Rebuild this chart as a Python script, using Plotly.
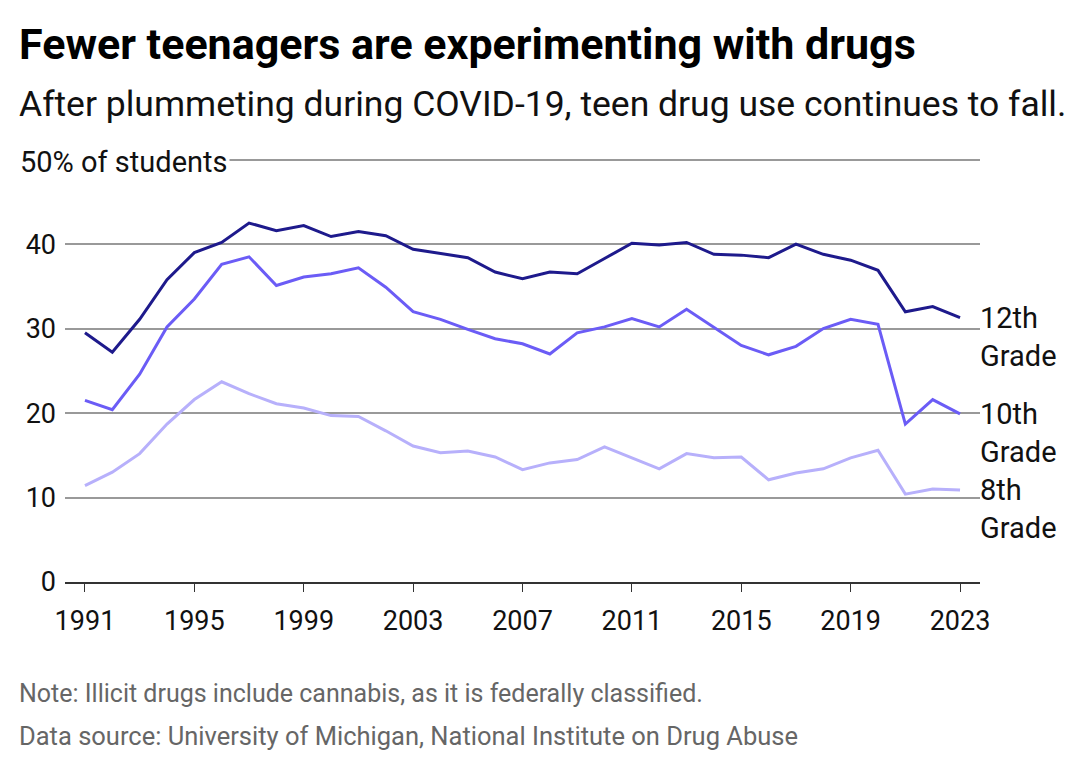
import plotly.graph_objects as go

years = list(range(1991, 2024))
g12 = [29.5,27.2,31.1,35.8,39.0,40.2,42.5,41.6,42.2,40.9,41.5,41.0,39.4,38.9,38.4,36.7,35.9,36.7,36.5,38.3,40.1,39.9,40.2,38.8,38.7,38.4,40.0,38.8,38.1,36.9,32.0,32.6,31.3]
g10 = [21.5,20.4,24.6,30.2,33.5,37.6,38.5,35.1,36.1,36.5,37.2,34.9,32.0,31.1,29.9,28.8,28.2,27.0,29.5,30.2,31.2,30.2,32.3,30.1,28.0,26.9,27.9,30.0,31.1,30.5,18.7,21.6,19.9]
g8 = [11.4,13.0,15.2,18.7,21.6,23.7,22.3,21.1,20.6,19.7,19.6,17.9,16.1,15.3,15.5,14.8,13.3,14.1,14.5,16.0,14.7,13.4,15.2,14.7,14.8,12.1,12.9,13.4,14.7,15.6,10.4,11.0,10.9]
series = [("12th<br>Grade", g12, "#1e1a8c"), ("10th<br>Grade", g10, "#6b5cf6"), ("8th<br>Grade", g8, "#b7b0fb")]
xticks = list(range(1991, 2024, 4))
yticks = [0, 10, 20, 30, 40]

fig = go.Figure()
for name, vals, col in series:
    fig.add_trace(go.Scatter(x=years, y=vals, mode="lines", line=dict(color=col, width=3), hoverinfo="skip"))
    fig.add_annotation(x=years[-1], y=vals[-1], text=name, showarrow=False, xanchor="left", yanchor="top",
                       xshift=18, yshift=19, align="left", font=dict(size=29, color="#111"))

fig.add_annotation(x=0, xref="paper", y=50, yref="y", text="50% of students", showarrow=False,
                   xanchor="left", xshift=-47, yshift=-2, bgcolor="white", font=dict(size=29, color="#111"))

fig.update_layout(
    width=1080, height=770, paper_bgcolor="white", plot_bgcolor="white",
    font=dict(family="Roboto", color="#111"),
    margin=dict(l=57, r=108, t=150, b=196),
    showlegend=False,
)
def txt(y, text, size, color, bold=False):
    fig.add_annotation(xref="paper", yref="paper", x=-0.052, y=y, xanchor="left", yanchor="middle",
                       text=("<b>%s</b>" % text) if bold else text, showarrow=False,
                       font=dict(size=size, color=color))
txt(1.270, "Fewer teenagers are experimenting with drugs", 43, "#000", True)
txt(1.127, "After plummeting during COVID-19, teen drug use continues to fall.", 35.5, "#111")
txt(-0.263, "Note: Illicit drugs include cannabis, as it is federally classified.", 25, "#666")
txt(-0.363, "Data source: University of Michigan, National Institute on Drug Abuse", 25.5, "#666")

fig.update_xaxes(range=[1990.27, 2023.73], tickvals=xticks, ticks="outside", ticklen=8, tickcolor="#333",
                 showgrid=False, showline=True, linecolor="#333", linewidth=1.5, tickfont=dict(size=27),
                 zeroline=False, ticklabelstandoff=6)
fig.update_yaxes(range=[0, 50.2], tickvals=yticks + [50], ticktext=[str(v) for v in yticks] + [""],
                 showgrid=True, gridcolor="#999", gridwidth=1.5, zeroline=False, tickfont=dict(size=27),
                 ticks="", ticklabelstandoff=8)
fig.write_html("out.html")
